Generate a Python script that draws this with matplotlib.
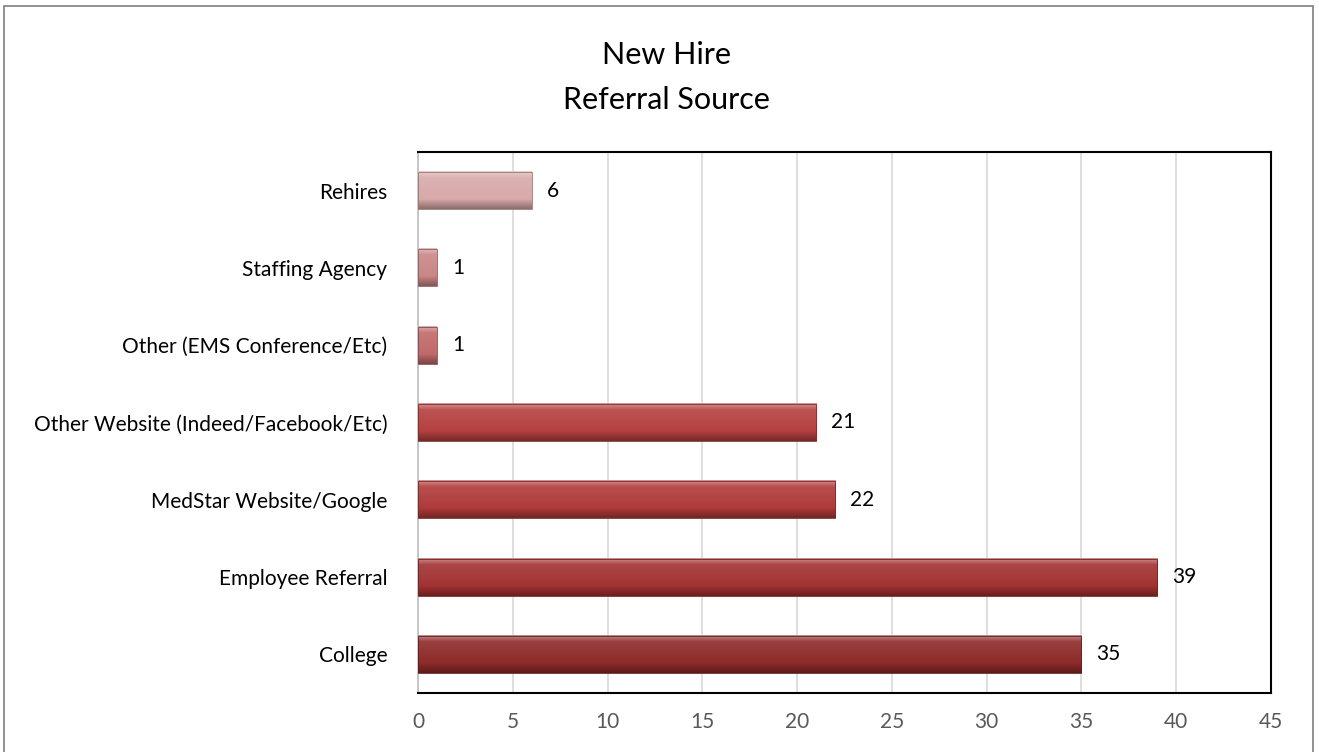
import numpy as np
import matplotlib.pyplot as plt
from matplotlib.patches import Rectangle
from matplotlib.colors import to_rgb

# 数据（从下到上）
categories = ['College', 'Employee Referral', 'MedStar Website/Google',
              'Other Website (Indeed/Facebook/Etc)', 'Other (EMS Conference/Etc)',
              'Staffing Agency', 'Rehires']
counts = [35, 39, 22, 21, 1, 1, 6]
bar_colors = ['#8e2a2a', '#a33232', '#b03a3a', '#b54040', '#c06a6a', '#c98686', '#d8a9a9']
x_ticks = [0, 5, 10, 15, 20, 25, 30, 35, 40, 45]


def shade(c, f):
    # f>0 变亮, f<0 变暗
    c = np.array(to_rgb(c))
    if f > 0:
        return c + (1 - c) * f
    return c * (1 + f)


def main():
    plt.rcParams['font.family'] = ['Lato', 'DejaVu Sans']

    fig = plt.figure(figsize=(13.19, 7.52), dpi=100)
    ax = fig.add_axes([418 / 1319, 1 - 693 / 752, (1271 - 418) / 1319, (693 - 152) / 752])

    bar_h = 0.48
    y = np.arange(len(categories))
    # 纵向渐变（从上到下）模拟立体斜面
    prof = np.concatenate([
        np.linspace(0.45, 0.15, 8),
        np.linspace(0.1, 0.0, 30),
        np.linspace(-0.05, -0.35, 12),
    ])
    for i, (v, c) in enumerate(zip(counts, bar_colors)):
        grad = np.array([shade(c, f) for f in prof])[:, None, :]
        ax.imshow(grad, extent=[0, v, i - bar_h / 2, i + bar_h / 2],
                  aspect='auto', zorder=3, interpolation='bilinear')
        ax.add_patch(Rectangle((0, i - bar_h / 2), v, bar_h, fill=False,
                               edgecolor=shade(c, -0.3), linewidth=0.6, zorder=4))
        ax.text(v + 0.8, i, str(v), va='center', ha='left', fontsize=15, color='black')

    ax.set_xlim(0, 45)
    ax.set_ylim(-0.5, len(categories) - 0.5)
    ax.set_yticks(y)
    ax.set_yticklabels(categories, fontsize=15, color='black')
    ax.set_xticks(x_ticks)
    ax.set_xticklabels([str(t) for t in x_ticks], fontsize=15, color='#595959')
    ax.tick_params(axis='both', length=0)
    ax.tick_params(axis='x', pad=14)
    ax.tick_params(axis='y', pad=22)
    ax.grid(axis='x', color='#d9d9d9', linewidth=1.2, zorder=0)
    ax.set_axisbelow(True)
    for s in ['top', 'right', 'bottom']:
        ax.spines[s].set_color('black')
        ax.spines[s].set_linewidth(1.5)
    ax.spines['left'].set_color('#bfbfbf')
    ax.spines['left'].set_linewidth(1.2)

    fig.text(666 / 1319, 1 - 55 / 752, 'New Hire', ha='center', va='center', fontsize=22)
    fig.text(666 / 1319, 1 - 100 / 752, 'Referral Source', ha='center', va='center', fontsize=22)

    # 外框
    fig.patches.append(Rectangle((4 / 1319, -0.02), (1313 - 4) / 1319, 1.02 - 6 / 752,
                                 transform=fig.transFigure, fill=False,
                                 edgecolor='#7f7f7f', linewidth=1.2))

    fig.savefig('out.png', dpi=100)


if __name__ == '__main__':
    main()
